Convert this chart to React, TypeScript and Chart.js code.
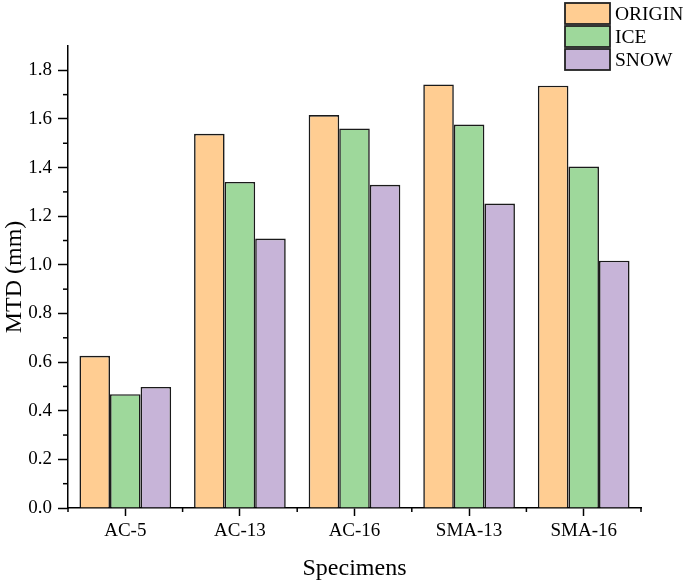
import React, { useEffect, useRef } from "react";
import { Chart, registerables } from "chart.js";

Chart.register(...registerables);

const categories = ["AC-5", "AC-13", "AC-16", "SMA-13", "SMA-16"];
const originValues = [0.626, 1.539, 1.616, 1.742, 1.737];
const iceValues = [0.468, 1.341, 1.561, 1.577, 1.404];
const snowValues = [0.498, 1.108, 1.329, 1.252, 1.017];
const seriesNames = ["ORIGIN", "ICE", "SNOW"];
const seriesColors = ["#FFCD92", "#9ED89B", "#C7B4D8"];
const yTicks = [0, 0.2, 0.4, 0.6, 0.8, 1.0, 1.2, 1.4, 1.6, 1.8];
const yMinorTicks = [0.1, 0.3, 0.5, 0.7, 0.9, 1.1, 1.3, 1.5, 1.7];

const FONT = "'Liberation Serif', 'Times New Roman', serif";

const extrasPlugin = {
  id: "extras",
  afterDraw(chart: any) {
    const ctx = chart.ctx;
    const y = chart.scales.y;
    const x = chart.scales.x;
    const area = chart.chartArea;
    ctx.save();
    ctx.strokeStyle = "#000";
    ctx.lineWidth = 1.5;
    yMinorTicks.forEach((v) => {
      const py = y.getPixelForValue(v);
      ctx.beginPath();
      ctx.moveTo(area.left - 5, py);
      ctx.lineTo(area.left, py);
      ctx.stroke();
    });
    for (let i = 0; i <= categories.length; i++) {
      const px = x.getPixelForValue(i - 0.5);
      ctx.beginPath();
      ctx.moveTo(px, area.bottom);
      ctx.lineTo(px, area.bottom + 4);
      ctx.stroke();
    }
    const boxL = 565;
    const boxW = 45;
    const boxH = 21;
    const tops = [3, 26, 49];
    chart.data.datasets.forEach((ds: any, i: number) => {
      ctx.fillStyle = ds.backgroundColor;
      ctx.fillRect(boxL, tops[i], boxW, boxH);
      ctx.lineWidth = 1.8;
      ctx.strokeStyle = "#222";
      ctx.strokeRect(boxL, tops[i], boxW, boxH);
      ctx.fillStyle = "#000";
      ctx.font = `19.5px ${FONT}`;
      ctx.textBaseline = "middle";
      ctx.textAlign = "left";
      ctx.fillText(ds.label, 615, tops[i] + boxH / 2 + 1);
    });
    ctx.restore();
  },
};

export default function App() {
  const canvasRef = useRef<HTMLCanvasElement | null>(null);

  useEffect(() => {
    if (!canvasRef.current) return;
    const values = [originValues, iceValues, snowValues];
    const chart = new Chart(canvasRef.current, {
      type: "bar",
      data: {
        labels: categories,
        datasets: seriesNames.map((name, i) => ({
          label: name,
          data: values[i],
          backgroundColor: seriesColors[i],
          borderColor: "#1a1a1a",
          borderWidth: 1.6,
          categoryPercentage: 0.8,
          barPercentage: 1.0,
        })),
      },
      options: {
        animation: false,
        responsive: false,
        maintainAspectRatio: false,
        layout: { padding: { top: 46, right: 44, left: 0, bottom: 0 } },
        plugins: {
          legend: { display: false },
          tooltip: { enabled: false },
        },
        scales: {
          x: {
            type: "category",
            offset: true,
            grid: {
              offset: false,
              drawOnChartArea: false,
              drawTicks: true,
              tickLength: 8,
              tickColor: "#000",
              tickWidth: 1.5,
            },
            border: { display: true, color: "#000", width: 1.5 },
            ticks: {
              color: "#000",
              font: { family: FONT, size: 19 },
              padding: 4,
              maxRotation: 0,
            },
            title: {
              display: true,
              text: "Specimens",
              color: "#000",
              font: { family: FONT, size: 24 },
              padding: { top: 4, bottom: 0 },
            },
            afterFit(scale: any) {
              scale.height = 75;
            },
          },
          y: {
            min: 0,
            max: 1.9,
            afterBuildTicks(scale: any) {
              scale.ticks = yTicks.map((v) => ({ value: v }));
            },
            grid: {
              drawOnChartArea: false,
              drawTicks: true,
              tickLength: 10,
              tickColor: "#000",
              tickWidth: 1.5,
            },
            border: { display: true, color: "#000", width: 1.5 },
            ticks: {
              color: "#000",
              font: { family: FONT, size: 19 },
              padding: 6,
              callback: (v: any) => Number(v).toFixed(1),
            },
            title: {
              display: true,
              text: "MTD (mm)",
              color: "#000",
              font: { family: FONT, size: 24 },
              padding: { top: 0, bottom: 0 },
            },
            afterFit(scale: any) {
              scale.width = 68;
            },
          },
        },
      },
      plugins: [extrasPlugin],
    });
    return () => chart.destroy();
  }, []);

  return (
    <div style={{ position: "fixed", left: 0, top: 0, width: 685, height: 583, background: "#fff" }}>
      <canvas ref={canvasRef} width={685} height={583} style={{ width: 685, height: 583, display: "block" }} />
    </div>
  );
}
